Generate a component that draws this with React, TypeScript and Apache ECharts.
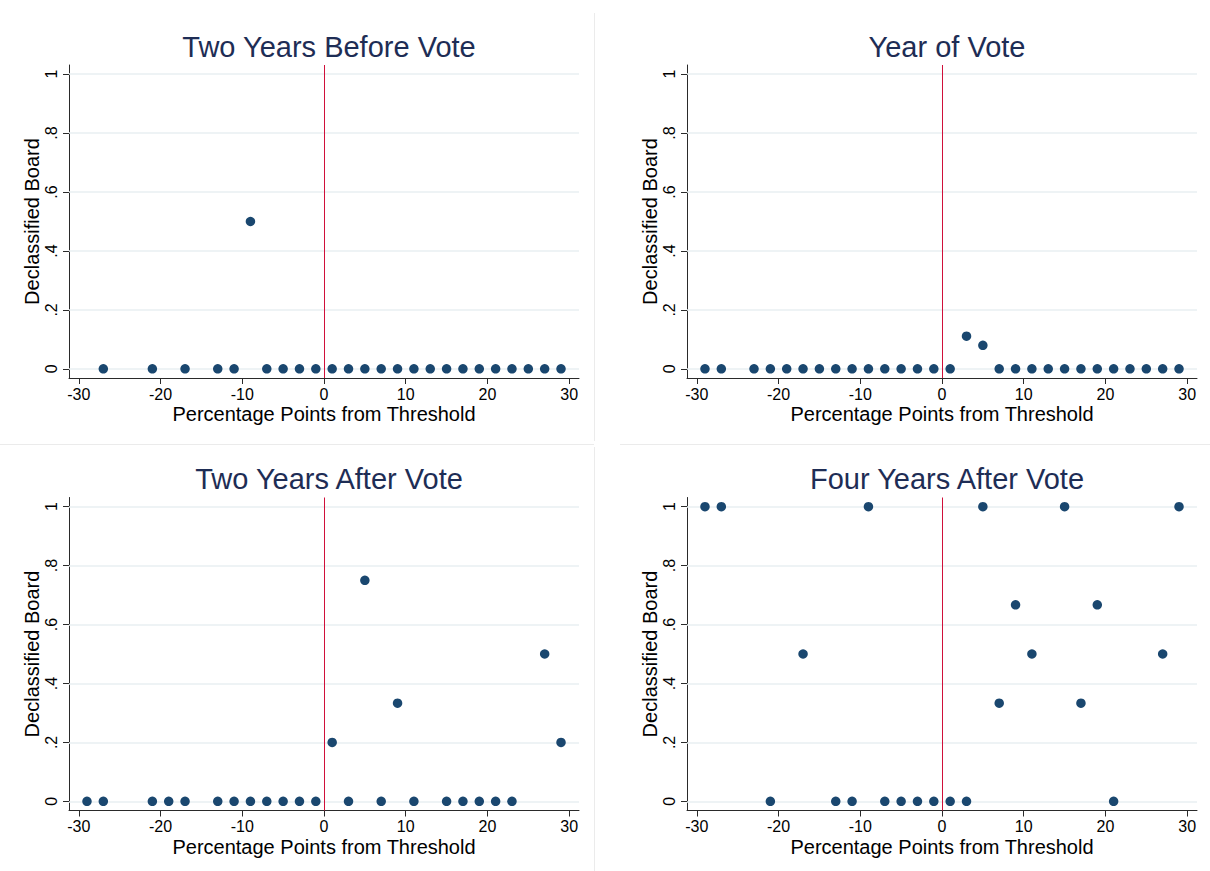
import React, { useEffect, useRef } from "react";
import * as echarts from "echarts";

// ---------- data ----------
const panelTitles = [
  "Two Years Before Vote",
  "Year of Vote",
  "Two Years After Vote",
  "Four Years After Vote",
];

const xTickValues = [-30, -20, -10, 0, 10, 20, 30];
const yTickValues = [0, 0.2, 0.4, 0.6, 0.8, 1];
const yTickLabels = ["0", ".2", ".4", ".6", ".8", "1"];

const xAxisTitle = "Percentage Points from Threshold";
const yAxisTitle = "Declassified Board";
const thresholdX = 0;

const beforeX = [-27, -21, -17, -13, -11, -9, -7, -5, -3, -1, 1, 3, 5, 7, 9, 11, 13, 15, 17, 19, 21, 23, 25, 27, 29];
const beforeY = [0, 0, 0, 0, 0, 0.5, 0, 0, 0, 0, 0, 0, 0, 0, 0, 0, 0, 0, 0, 0, 0, 0, 0, 0, 0];

const voteX = [-29, -27, -23, -21, -19, -17, -15, -13, -11, -9, -7, -5, -3, -1, 1, 3, 5, 7, 9, 11, 13, 15, 17, 19, 21, 23, 25, 27, 29];
const voteY = [0, 0, 0, 0, 0, 0, 0, 0, 0, 0, 0, 0, 0, 0, 0, 0.111, 0.08, 0, 0, 0, 0, 0, 0, 0, 0, 0, 0, 0, 0];

const after2X = [-29, -27, -21, -19, -17, -13, -11, -9, -7, -5, -3, -1, 1, 3, 5, 7, 9, 11, 15, 17, 19, 21, 23, 27, 29];
const after2Y = [0, 0, 0, 0, 0, 0, 0, 0, 0, 0, 0, 0, 0.2, 0, 0.75, 0, 0.333, 0, 0, 0, 0, 0, 0, 0.5, 0.2];

const after4X = [-29, -27, -21, -17, -13, -11, -9, -7, -5, -3, -1, 1, 3, 5, 7, 9, 11, 15, 17, 19, 21, 27, 29];
const after4Y = [1, 1, 0, 0.5, 0, 0, 1, 0, 0, 0, 0, 0, 0, 1, 0.333, 0.667, 0.5, 1, 0.333, 0.667, 0, 0.5, 1];

const panelX = [beforeX, voteX, after2X, after4X];
const panelY = [beforeY, voteY, after2Y, after4Y];

// ---------- layout / style ----------
const FONT = "'Liberation Sans', Arial, Helvetica, sans-serif";
const TITLE_COLOR = "#1e2d55";
const MARKER_COLOR = "#1a476f";
const LINE_RED = "#d0103a";
const GRID_COLOR = "#e8eff2";
const AXIS_COLOR = "#2a2a2a";

const gridPos = [
  { left: 69, top: 65 },
  { left: 687, top: 65 },
  { left: 69, top: 497.5 },
  { left: 687, top: 497.5 },
];
const GRID_W = 510;
const GRID_H = 313;

export default function App() {
  const ref = useRef<HTMLDivElement>(null);

  useEffect(() => {
    if (!ref.current) return;
    const chart = echarts.init(ref.current, undefined, { renderer: "svg" });

    const grids = gridPos.map((g) => ({
      left: g.left,
      top: g.top,
      width: GRID_W,
      height: GRID_H,
      containLabel: false,
    }));

    const xAxes = gridPos.map((_, i) => ({
      type: "value",
      gridIndex: i,
      min: -31.2,
      max: 31.2,
      name: xAxisTitle,
      nameLocation: "middle",
      nameGap: 26,
      nameTextStyle: { fontFamily: FONT, fontSize: 20, color: "#000" },
      axisLine: { show: true, onZero: false, lineStyle: { color: AXIS_COLOR, width: 1 } },
      axisTick: { show: true, length: 6, customValues: xTickValues, lineStyle: { color: AXIS_COLOR } },
      axisLabel: {
        customValues: xTickValues,
        margin: 8,
        fontFamily: FONT,
        fontSize: 16,
        color: "#000",
      },
      splitLine: { show: false },
    }));

    const yAxes = gridPos.map((_, i) => ({
      type: "value",
      gridIndex: i,
      min: -0.031,
      max: 1.031,
      name: yAxisTitle,
      nameLocation: "middle",
      nameGap: 27,
      nameRotate: 90,
      nameTextStyle: { fontFamily: FONT, fontSize: 20, color: "#000" },
      axisLine: { show: true, onZero: false, lineStyle: { color: AXIS_COLOR, width: 1 } },
      axisTick: { show: true, length: 6, customValues: yTickValues, lineStyle: { color: AXIS_COLOR } },
      axisLabel: {
        customValues: yTickValues,
        rotate: 90,
        margin: 10,
        fontFamily: FONT,
        fontSize: 16,
        color: "#000",
        formatter: (v: number) => {
          const idx = yTickValues.findIndex((t) => Math.abs(t - v) < 1e-9);
          return idx >= 0 ? yTickLabels[idx] : "";
        },
      },
      splitLine: { show: false },
    }));

    // background reference lines (grid lines + threshold line), drawn below the markers
    const refSeries = gridPos.map((_, i) => ({
      type: "scatter",
      xAxisIndex: i,
      yAxisIndex: i,
      symbolSize: 0,
      itemStyle: { opacity: 0 },
      silent: true,
      data: panelX[i].map((x, k) => [x, panelY[i][k]]),
      markLine: {
        silent: true,
        symbol: "none",
        label: { show: false },
        animation: false,
        data: [
          ...yTickValues.map((v) => ({ yAxis: v, lineStyle: { color: GRID_COLOR, width: 1.5, type: "solid" } })),
          { xAxis: thresholdX, lineStyle: { color: LINE_RED, width: 1, type: "solid" } },
        ],
      },
      z: 1,
    }));

    const dotSeries = gridPos.map((_, i) => ({
      type: "scatter",
      xAxisIndex: i,
      yAxisIndex: i,
      symbol: "circle",
      symbolSize: 9.5,
      itemStyle: { color: MARKER_COLOR, opacity: 1 },
      data: panelX[i].map((x, k) => [x, panelY[i][k]]),
      z: 5,
    }));

    const titles = gridPos.map((g, i) => ({
      text: panelTitles[i],
      left: g.left + GRID_W / 2,
      top: g.top - 38,
      textAlign: "center",
      textStyle: { fontFamily: FONT, fontSize: 29, fontWeight: "normal", color: TITLE_COLOR },
    }));

    const border = { stroke: "#ebebeb", lineWidth: 1 };
    chart.setOption({
      animation: false,
      backgroundColor: "#ffffff",
      title: titles,
      grid: grids,
      xAxis: xAxes,
      yAxis: yAxes,
      series: [...refSeries, ...dotSeries],
      graphic: [
        { type: "line", shape: { x1: 594.5, y1: 13, x2: 594.5, y2: 441 }, style: border, silent: true },
        { type: "line", shape: { x1: 594.5, y1: 447, x2: 594.5, y2: 871 }, style: border, silent: true },
        { type: "line", shape: { x1: 0, y1: 444.5, x2: 594, y2: 444.5 }, style: border, silent: true },
        { type: "line", shape: { x1: 620, y1: 444.5, x2: 1210, y2: 444.5 }, style: border, silent: true },
      ],
    });

    return () => chart.dispose();
  }, []);

  return (
    <div
      ref={ref}
      style={{ position: "absolute", left: 0, top: 0, width: 1210, height: 871, background: "#fff" }}
    />
  );
}
